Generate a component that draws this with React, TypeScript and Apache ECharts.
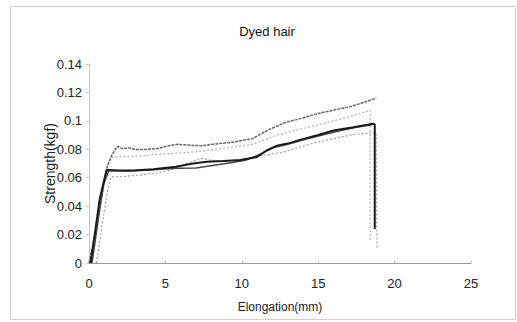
import React, { useEffect, useRef } from "react";
import * as echarts from "echarts";

const titleText = "Dyed hair";
const xName = "Elongation(mm)";
const yName = "Strength(kgf)";

// Sample 1 (top, darker gray)
const s1: [number, number][] = [
  [0, 0], [0.4, 0.02], [0.8, 0.045], [1.2, 0.068], [1.5, 0.076], [1.85, 0.082], [2.2, 0.0805], [2.6, 0.081],
  [3.0, 0.0798], [3.6, 0.0798], [4.5, 0.0805], [5.2, 0.0825], [5.8, 0.0835], [6.5, 0.083], [7.3, 0.0824],
  [8.3, 0.0838], [9.4, 0.085], [10.7, 0.0875], [11.8, 0.094], [12.9, 0.099], [14.0, 0.102], [14.9, 0.105],
  [16.0, 0.1075], [17.1, 0.110], [18.0, 0.113], [18.8, 0.116],
];
// Sample 2 (light gray, dotted)
const s2: [number, number][] = [
  [0.1, 0], [0.5, 0.025], [0.9, 0.055], [1.3, 0.072], [1.6, 0.0746], [2.2, 0.0748], [2.9, 0.075], [4.2, 0.0762],
  [5.7, 0.0773], [7.0, 0.0782], [8.3, 0.080], [9.6, 0.0818], [10.8, 0.0837], [12.3, 0.090], [13.6, 0.0935],
  [14.9, 0.097], [16.0, 0.100], [17.1, 0.103], [18.4, 0.1075], [18.4, 0.016],
];
// Sample 3 (black, thick)
const s3: [number, number][] = [
  [0.1, 0], [0.4, 0.022], [0.7, 0.045], [1.15, 0.0654], [2.0, 0.065], [2.9, 0.065], [4.2, 0.066], [5.7, 0.0677],
  [6.7, 0.0698], [7.7, 0.0712], [8.8, 0.0718], [9.9, 0.0725], [11.0, 0.0746], [11.6, 0.079], [12.3, 0.0825],
  [13.0, 0.084], [13.8, 0.0866], [15.0, 0.090], [16.0, 0.0932], [17.3, 0.0955], [18.6, 0.098], [18.7, 0.0975],
  [18.7, 0.024],
];
// Sample 4 (dark gray)
const s4: [number, number][] = [
  [0.2, 0], [0.6, 0.03], [0.95, 0.055], [1.3, 0.065], [2.5, 0.0648], [4.0, 0.0655], [5.7, 0.0666],
  [7.0, 0.0668], [8.3, 0.069], [9.3, 0.0705], [10.3, 0.0725], [11.2, 0.0765], [12.0, 0.081], [13.0, 0.0835],
  [14.0, 0.0865], [15.2, 0.0898], [16.4, 0.093], [17.5, 0.0955], [18.5, 0.0972],
];
// Sample 5 (bottom, light gray dotted)
const s5: [number, number][] = [
  [0.5, 0], [0.9, 0.03], [1.2, 0.05], [1.45, 0.0605], [2.4, 0.061], [3.5, 0.062], [4.6, 0.0635],
  [5.7, 0.0666], [6.5, 0.0705], [7.3, 0.0737], [8.2, 0.072], [9.4, 0.071], [10.7, 0.0746], [11.7, 0.0762],
  [12.7, 0.078], [13.8, 0.0815], [14.9, 0.085], [16.0, 0.0875], [17.1, 0.090], [18.8, 0.092], [18.85, 0.01],
];

const xTicks = { min: 0, max: 25, interval: 5 };
const yTicks = { min: 0, max: 0.14, interval: 0.02 };

export default function App() {
  const ref = useRef<HTMLDivElement>(null);
  useEffect(() => {
    if (!ref.current) return;
    const chart = echarts.init(ref.current, undefined, { renderer: "svg" });
    const font = "'Liberation Sans', Arial, sans-serif";
    const mk = (name: string, data: [number, number][], color: string, width: number, type: any, z: number) => ({
      name,
      type: "line",
      data,
      showSymbol: false,
      symbol: "none",
      smooth: false,
      lineStyle: { color, width, type },
      z,
    });
    chart.setOption({
      animation: false,
      backgroundColor: "#ffffff",
      title: {
        text: titleText,
        left: 262,
        textAlign: "center",
        top: 20,
        textStyle: { fontFamily: font, fontSize: 13, fontWeight: "normal", color: "#111", letterSpacing: -0.5 },
      },
      graphic: [
        {
          type: "rect",
          shape: { x: 10.5, y: 6.5, width: 505, height: 313 },
          style: { fill: "none", stroke: "#cfcfcf", lineWidth: 1 },
          silent: true,
        },
      ],
      grid: { left: 89, right: 46, top: 64, bottom: 59, containLabel: false },
      xAxis: {
        type: "value",
        min: xTicks.min,
        max: xTicks.max,
        interval: xTicks.interval,
        name: xName,
        nameLocation: "middle",
        nameGap: 38,
        nameMoveOverlap: false,
        nameTextStyle: { fontFamily: font, fontSize: 12, color: "#222", letterSpacing: -0.5 },
        axisLine: { lineStyle: { color: "#999", width: 1 } },
        axisTick: { show: true, inside: true, length: 2, lineStyle: { color: "#bbb" } },
        axisLabel: { fontFamily: font, fontSize: 13, color: "#222", margin: 14 },
        splitLine: { show: false },
      },
      yAxis: {
        type: "value",
        min: yTicks.min,
        max: yTicks.max,
        interval: yTicks.interval,
        name: yName,
        nameLocation: "middle",
        nameGap: 32,
        nameMoveOverlap: false,
        nameTextStyle: { fontFamily: font, fontSize: 14, color: "#222" },
        axisLine: { show: true, lineStyle: { color: "#c8c8c8", width: 1 } },
        axisTick: { show: true, length: 3, lineStyle: { color: "#c8c8c8" } },
        axisLabel: { fontFamily: font, fontSize: 13, color: "#222", margin: 7 },
        splitLine: { show: false },
      },
      series: [
        mk("s2", s2, "#b0b0b0", 1.2, [2, 2], 2),
        mk("s5", s5, "#a0a0a0", 1.2, [2, 2], 2),
        mk("s1", s1, "#666666", 1.5, [3, 1], 3),
        mk("s4", s4, "#474747", 1.5, "solid", 4),
        mk("s3", s3, "#1a1a1a", 2, "solid", 5),
      ],
    });
    return () => chart.dispose();
  }, []);
  return <div ref={ref} style={{ width: 517, height: 322, position: "absolute", left: 0, top: 0 }} />;
}
